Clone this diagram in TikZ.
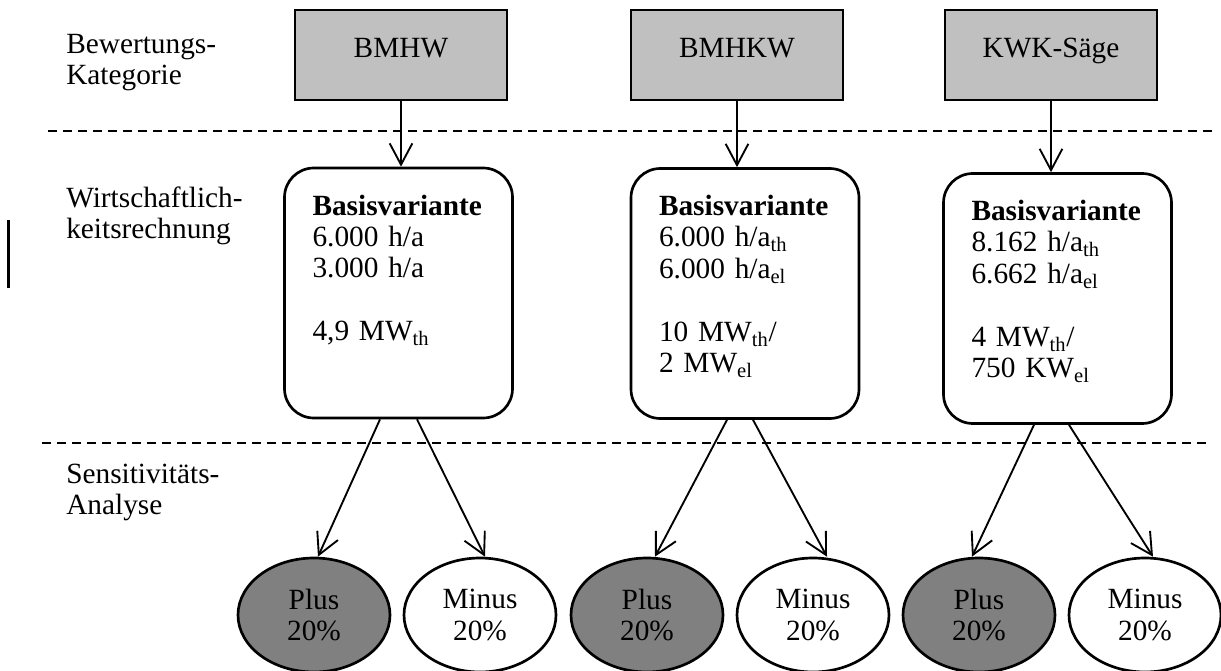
\documentclass[tikz,border=0pt]{standalone}
\usepackage{fontspec}
\setmainfont{Liberation Serif}
\usepackage{tikz}
\usetikzlibrary{arrows.meta, shapes.geometric}
\definecolor{catgray}{RGB}{192,192,192}
\definecolor{plusgray}{RGB}{128,128,128}

\begin{document}
\begin{tikzpicture}[x=0.75pt, y=-0.75pt,
  font=\fontsize{22pt}{23.6pt}\selectfont,
  catbox/.style={draw, line width=2pt, fill=catgray, minimum width=159pt, minimum height=67.5pt, inner sep=0pt, text height=15pt, text depth=12pt},
  varbox/.style={draw, line width=2pt, rounded corners=22pt, text width=129pt, inner xsep=21pt, minimum height=187.5pt, align=left, text height=14.25pt, text depth=131.25pt},
  sens/.style={draw, ellipse, line width=2pt, minimum width=114pt, minimum height=85.5pt, inner sep=0pt, align=center},
  plusell/.style={sens, fill=plusgray},
  minusell/.style={sens, fill=white},
  lbl/.style={anchor=base west, inner sep=0pt, text width=160pt, align=left},
  arr/.style={line width=1.4pt, -{Straight Barb[length=16pt, width=17pt]}},
  sepline/.style={line width=1.5pt, dash pattern=on 6.75pt off 4.5pt}]
\useasboundingbox (0,0) rectangle (1221,671);
% labels on the left
\node[lbl] (lblcat) at (66,53) {Bewertungs-\\Kategorie};
\node[lbl] (lblwirt) at (66,207) {Wirtschaftlich-\\keitsrechnung};
\node[lbl] (lblsens) at (66,483) {Sensitivitäts-\\Analyse};
\draw[line width=2.25pt] (8.5,220) -- (8.5,288);
% separators
\draw[sepline] (48,131) -- (1213,131);
\draw[sepline] (42,443) -- (1207,443);
% categories
\node[catbox] (bmhw) at (401,55) {BMHW};
\node[catbox] (bmhkw) at (737,55) {BMHKW};
\node[catbox] (kwk) at (1051,55) {KWK-Säge};
% base variants
\node[varbox] (bmhwvar) at (398.5,293) {\textbf{Basisvariante}\\6.000 h/a\\3.000 h/a\\[23.6pt]4,9 MW\textsubscript{th}};
\node[varbox] (bmhkwvar) at (745,293.5) {\textbf{Basisvariante}\\6.000 h/a\textsubscript{th}\\6.000 h/a\textsubscript{el}\\[23.6pt]10 MW\textsubscript{th}/\\2 MW\textsubscript{el}};
\node[varbox] (kwkvar) at (1057.5,298.5) {\textbf{Basisvariante}\\8.162 h/a\textsubscript{th}\\6.662 h/a\textsubscript{el}\\[23.6pt]4 MW\textsubscript{th}/\\750 KW\textsubscript{el}};
% sensitivity
\node[plusell] (plusa) at (314,615) {Plus\\20\%};
\node[minusell] (minusa) at (480,615) {Minus\\20\%};
\node[plusell] (plusb) at (647,615) {Plus\\20\%};
\node[minusell] (minusb) at (813,615) {Minus\\20\%};
\node[plusell] (plusc) at (979,615) {Plus\\20\%};
\node[minusell] (minusc) at (1145,615) {Minus\\20\%};
% arrows
\draw[arr] (bmhw.south) -- (bmhw.south |- bmhwvar.north);
\draw[arr] (bmhkw.south) -- (bmhkw.south |- bmhkwvar.north);
\draw[arr] (kwk.south) -- (kwk.south |- kwkvar.north);
\draw[arr] ([shift={(-18.5,0)}]bmhwvar.south) -- ([shift={(4,0)}]plusa.north);
\draw[arr] ([shift={(18.5,0)}]bmhwvar.south) -- ([shift={(5,0)}]minusa.north);
\draw[arr] ([shift={(-18,0)}]bmhkwvar.south) -- ([shift={(8,0)}]plusb.north);
\draw[arr] ([shift={(8,0)}]bmhkwvar.south) -- ([shift={(14,0)}]minusb.north);
\draw[arr] ([shift={(-23.5,0)}]kwkvar.south) -- ([shift={(-7,0)}]plusc.north);
\draw[arr] ([shift={(11.5,0)}]kwkvar.south) -- ([shift={(8,0)}]minusc.north);
\end{tikzpicture}
\end{document}
